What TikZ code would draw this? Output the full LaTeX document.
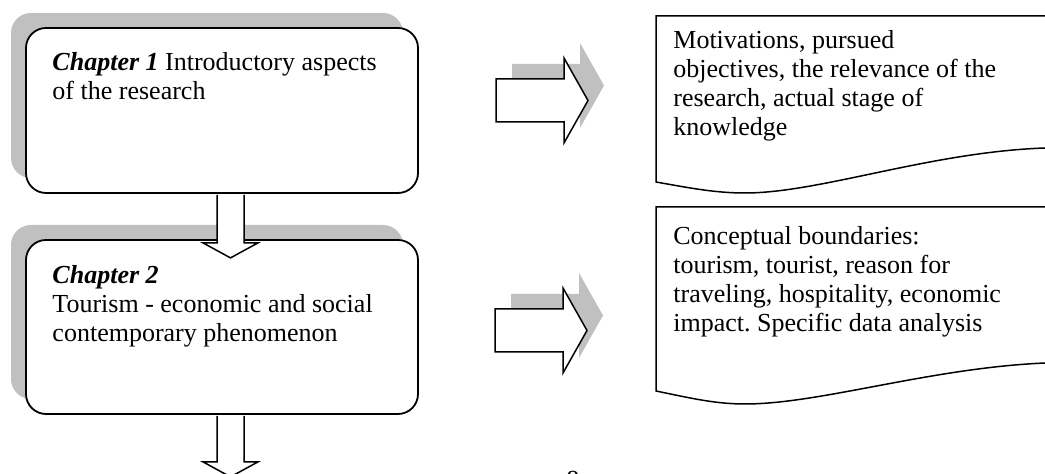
\documentclass[tikz,border=0pt]{standalone}
\usepackage{fontspec}
\setmainfont{Liberation Serif}
\usetikzlibrary{calc, shadows}
\definecolor{shade}{HTML}{C0C0C0}
\frenchspacing
\tikzstyle{chapbox} = [rectangle, rounded corners=10pt, draw=black,
    line width=0.9pt, fill=white, minimum width=196pt, inner sep=0pt,
    drop shadow={shadow xshift=-7.5pt, shadow yshift=7.5pt, opacity=1, fill=shade}]
\tikzstyle{boxtext} = [anchor=base west, inner sep=0pt,
    font=\fontsize{13}{14.5}\selectfont]
\tikzstyle{docline} = [draw=black, line width=0.75pt, fill=white]
\tikzstyle{blockarrow} = [draw=black, line width=0.75pt, fill=white, line join=miter]
\tikzstyle{arrowshade} = [fill=shade]

\begin{document}
\begin{tikzpicture}[x=0.5pt, y=-0.5pt]
            \clip (0,0) rectangle (1045,474);
            % Chapters
            \node[chapbox, minimum height=82.5pt] (ch1) at (222,110.5) {};
            \node[chapbox, minimum height=87pt] (ch2) at (222,327) {};
            \node[boxtext] (ch1txt) at ($(ch1.north west)+(27,43)$)
            {\parbox[t]{190pt}{\textbf{\textit{Chapter 1}} Introductory aspects\\
            of the research}};
            \node[boxtext] (ch2txt) at ($(ch2.north west)+(27,44)$)
            {\parbox[t]{190pt}{\textbf{\textit{Chapter 2}}\\
            Tourism - economic and social\\contemporary phenomenon}};
            % Documents
            \coordinate (doc1) at (656,16);
            \coordinate (doc2) at (656,207);
            \draw[docline] (doc1) -- ++(420,0) -- (1076,148) -- (1045,148)
            .. controls (930,152) and (820,193) .. (745,193)
            .. controls (715,193) and (690,188) .. (656,182) -- cycle;
            \draw[docline] (doc2) -- ++(420,0) -- (1076,363) -- (1045,363)
            .. controls (930,368) and (820,404) .. (745,404)
            .. controls (715,404) and (690,398) .. (656,391) -- cycle;
            \node[boxtext] (mot) at ($(doc1)+(17,33)$)
            {\parbox[t]{180pt}{Motivations, pursued\\
            objectives, the relevance of the\\research, actual stage of\\knowledge}};
            \node[boxtext] (con) at ($(doc2)+(17,38)$)
            {\parbox[t]{180pt}{Conceptual boundaries:\\
            tourism, tourist, reason for\\traveling, hospitality, economic\\
            impact. Specific data analysis}};
            % Arrows to the right
            \coordinate (go1) at (496,79);
            \coordinate (go2) at (495,309);
            \fill[arrowshade] ($(go1)+(16,-15)$) -- ++(68,0) -- ++(0,-21)
            -- ++(24,42.5) -- ++(-24,42.5) -- ++(0,-21) -- ++(-68,0) -- cycle;
            \draw[blockarrow] (go1) -- ++(68,0) -- ++(0,-21)
            -- ++(24,42.5) -- ++(-24,42.5) -- ++(0,-21) -- ++(-68,0) -- cycle;
            \fill[arrowshade] ($(go2)+(16,-15)$) -- ++(68,0) -- ++(0,-21)
            -- ++(24,42.5) -- ++(-24,42.5) -- ++(0,-21) -- ++(-68,0) -- cycle;
            \draw[blockarrow] (go2) -- ++(68,0) -- ++(0,-21)
            -- ++(24,42.5) -- ++(-24,42.5) -- ++(0,-21) -- ++(-68,0) -- cycle;
            % Arrows down
            \draw[blockarrow] ($(ch1.south)+(-5,1)$) -- ++(0,48) -- ++(-14,0)
            -- ++(27.5,15) -- ++(27.5,-15) -- ++(-14,0) -- ++(0,-48);
            \draw[blockarrow] ($(ch2.south)+(-5,1)$) -- ++(0,46) -- ++(-14,0)
            -- ++(27.5,15) -- ++(27.5,-15) -- ++(-14,0) -- ++(0,-46);
            % Page number
            \node[boxtext] (pagenum) at (566,489) {8};
        \end{tikzpicture}
\end{document}
